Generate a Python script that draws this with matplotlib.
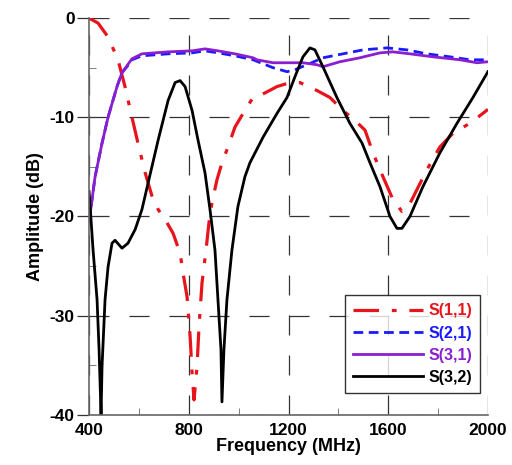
import matplotlib
matplotlib.use("Agg")
import matplotlib.pyplot as plt
from matplotlib.ticker import MultipleLocator

# ---- data ----
f11 = [400, 436, 476, 516, 544, 572, 596, 625, 653, 677, 705, 737, 765, 777, 793, 805, 813, 821,
       833, 841, 853, 869, 881, 893, 913, 933, 957, 985, 1025, 1058, 1086, 1154, 1206, 1246, 1314,
       1366, 1418, 1466, 1507, 1539, 1579, 1619, 1655, 1679, 1715, 1755, 1807, 1860, 1928, 1980, 2000]
s11 = [0.0, -0.5, -1.9, -4.2, -6.9, -10.0, -12.6, -15.6, -18.0, -19.3, -20.3, -21.7, -23.7, -25.7, -28.1, -32.0, -35.7, -38.5,
       -35.1, -31.1, -26.7, -23.4, -20.6, -18.6, -16.3, -14.6, -13.0, -11.0, -9.3, -8.0, -7.8, -6.9, -6.5, -6.5, -7.3,
       -8.0, -9.3, -10.3, -11.3, -13.6, -16.0, -18.3, -19.5, -19.1, -17.3, -15.3, -13.0, -11.6, -10.6, -9.6, -9.2]

f21 = [400, 424, 452, 476, 512, 532, 552, 572, 612, 717, 813, 865, 917, 985, 1058, 1138, 1194, 1226,
       1274, 1338, 1418, 1499, 1595, 1675, 1755, 1847, 1928, 2000]
s21 = [-20.5, -16.0, -12.6, -10.0, -6.9, -5.5, -4.9, -4.2, -3.8, -3.6, -3.5, -3.3, -3.5, -3.8, -4.2, -5.0, -5.4, -5.2,
       -4.7, -4.0, -3.6, -3.2, -3.0, -3.2, -3.6, -3.9, -4.2, -4.2]

f31 = [400, 424, 452, 476, 512, 532, 552, 572, 612, 717, 813, 865, 917, 985, 1058, 1073, 1138, 1206,
       1258, 1314, 1338, 1406, 1486, 1567, 1619, 1687, 1779, 1888, 1956, 2000]
s31 = [-20.5, -16.0, -12.6, -10.0, -6.9, -5.5, -4.8, -4.1, -3.6, -3.4, -3.3, -3.1, -3.3, -3.6, -4.0, -4.2, -4.5, -4.5,
       -4.5, -4.7, -4.9, -4.4, -4.0, -3.5, -3.4, -3.6, -3.9, -4.2, -4.5, -4.4]

f32 = [400, 405, 416, 432, 440, 448, 452, 464, 476, 492, 504, 532, 556, 585, 612, 637, 677, 717, 745,
       765, 785, 813, 837, 865, 885, 905, 917, 929, 933, 941, 953, 973, 997, 1025, 1045, 1098, 1154,
       1194, 1226, 1258, 1286, 1306, 1338, 1394, 1446, 1495, 1527, 1567, 1607, 1635, 1655, 1687, 1739,
       1807, 1876, 1940, 2000]
s32 = [-17.5, -19.3, -23.4, -28.4, -33.4, -40.0, -35.1, -28.4, -25.1, -22.7, -22.4, -23.2, -22.7, -21.3, -19.3, -16.6, -12.3, -8.3, -6.5,
       -6.3, -6.9, -9.3, -12.3, -15.6, -19.3, -23.4, -28.4, -33.4, -38.7, -33.4, -28.4, -23.4, -19.0, -16.0, -14.6, -12.0, -9.6,
       -8.0, -5.9, -3.9, -3.0, -3.2, -4.9, -8.0, -10.6, -12.6, -14.6, -17.0, -20.0, -21.2, -21.2, -20.0, -17.0,
       -13.6, -10.6, -8.0, -5.4]

labels = ["S(1,1)", "S(2,1)", "S(3,1)", "S(3,2)"]
colors = ["#e8141c", "#1a1aff", "#8a1fd0", "#000000"]

plt.rcParams["font.family"] = ["Liberation Sans", "DejaVu Sans"]
plt.rcParams["font.weight"] = "bold"
plt.rcParams["axes.unicode_minus"] = False

fig = plt.figure(figsize=(5.12, 4.65), dpi=100)
ax = fig.add_axes([0.174, 0.108, 0.779, 0.853])

ax.plot(f11, s11, color=colors[0], lw=2.3, dashes=(8, 4, 1.5, 4), label=labels[0])
ax.plot(f21, s21, color=colors[1], lw=2.0, dashes=(3.5, 2), label=labels[1])
ax.plot(f31, s31, color=colors[2], lw=2.0, label=labels[2])
ax.plot(f32, s32, color=colors[3], lw=2.0, label=labels[3])

ax.set_xlim(400, 2000)
ax.set_ylim(-40, 0)
ax.xaxis.set_major_locator(MultipleLocator(400))
ax.xaxis.set_minor_locator(MultipleLocator(200))
ax.yaxis.set_major_locator(MultipleLocator(10))
ax.yaxis.set_minor_locator(MultipleLocator(5))
ax.grid(True, which="major", color="#333333", lw=0.9, dashes=(16, 16))
ax.set_axisbelow(True)

for s in ["top", "right"]:
    ax.spines[s].set_visible(False)
for s in ["left", "bottom"]:
    ax.spines[s].set_color("#666666")
    ax.spines[s].set_linewidth(1.2)
ax.tick_params(which="both", direction="in", colors="#666666", labelcolor="black", labelsize=12.5)
ax.tick_params(axis="x", which="major", length=0, pad=6)
ax.tick_params(axis="y", which="major", direction="out", length=8.5, width=0.9, colors="#333333",
               labelcolor="black", pad=2)
ax.tick_params(which="minor", length=5)

for t in ax.get_xticklabels() + ax.get_yticklabels():
    t.set_fontweight("bold")

ax.set_xlabel("Frequency (MHz)", fontsize=13, fontweight="bold", labelpad=0)
ax.set_ylabel("Amplitude (dB)", fontsize=13, fontweight="bold", labelpad=4)

leg = ax.legend(loc="lower right", fontsize=11.5, handlelength=4.4, handletextpad=0.3,
                frameon=True, fancybox=False, borderpad=0.5, labelspacing=0.45,
                bbox_to_anchor=(1.0, 0.035))
leg.get_frame().set_edgecolor("black")
leg.get_frame().set_linewidth(1.0)
for txt, c in zip(leg.get_texts(), colors):
    txt.set_color(c)
    txt.set_fontweight("bold")

fig.savefig("out.png", dpi=100)
